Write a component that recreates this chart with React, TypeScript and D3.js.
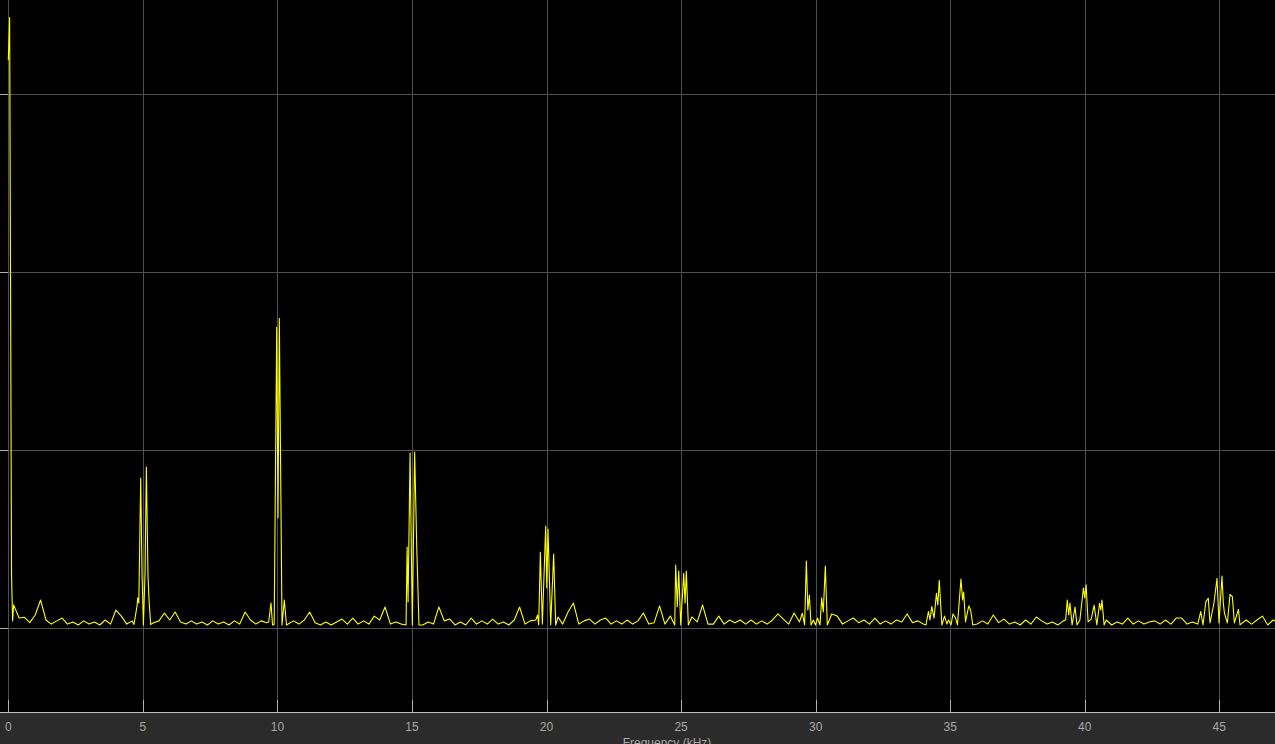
import React, { useRef, useEffect } from 'react';
import * as d3 from 'd3';

// spectrum amplitude, noise floor sampled every 0.2 kHz (null = covered by a peak group)
const noiseStep = 0.2;
const noiseFloor: (number | null)[] = [
  null, 0.013, 0.0056, 0.006, 0.003, 0.0073, 0.0157, 0.0045, 0.0022, 0.004,
  0.0056, 0.0022, 0.0034, 0.0017, 0.004, 0.0022, 0.0034, 0.0017, 0.0045, 0.0022,
  0.0101, 0.0067, 0.0022, 0.004, null, null, null, 0.003, 0.004, 0.0084,
  0.0045, 0.009, 0.0034, 0.0022, 0.004, 0.0022, 0.0034, 0.0017, 0.004, 0.0022,
  0.0034, 0.0017, 0.004, 0.0022, 0.009, 0.0045, 0.0022, 0.004, 0.003, null,
  null, null, 0.0022, 0.004, 0.0022, 0.0045, 0.009, 0.003, 0.0017, 0.0034,
  0.0017, 0.0034, 0.005, 0.0022, 0.0056, 0.0022, 0.004, 0.0022, 0.0067, 0.0045,
  0.0118, 0.0022, 0.0034, 0.0022, null, null, null, 0.0017, 0.0034, 0.0022,
  0.0118, 0.004, 0.005, 0.0017, 0.0034, 0.0017, 0.0056, 0.0022, 0.004, 0.0022,
  0.005, 0.0022, 0.0034, 0.0017, 0.0045, 0.0118, 0.0022, 0.004, 0.0045, null,
  null, null, null, 0.0022, 0.009, 0.014, 0.0022, 0.004, 0.005, 0.0022,
  0.0045, 0.0056, 0.0022, 0.004, 0.0022, 0.0045, 0.0022, 0.004, 0.0084, 0.0022,
  0.003, 0.0124, 0.0022, 0.0067, null, null, null, 0.0062, 0.0034, 0.0129,
  0.0022, 0.0022, 0.0067, 0.0022, 0.0045, 0.003, 0.0045, 0.0022, 0.0045, 0.0022,
  0.004, 0.0022, 0.0045, 0.0079, 0.005, 0.0022, 0.0084, 0.0034, null, null,
  null, null, null, 0.0079, 0.0067, 0.0022, 0.004, 0.0056, 0.003, 0.0045,
  0.0022, 0.0056, 0.0022, 0.004, 0.0022, 0.0045, 0.0034, 0.0079, 0.003, 0.004,
  0.0022, null, null, null, null, null, null, null, null, null,
  0.0022, 0.004, 0.0022, 0.0073, 0.003, 0.005, 0.0022, 0.0034, 0.0017, 0.0045,
  0.0022, 0.0062, 0.004, 0.0022, 0.0034, 0.0017, 0.004, null, null, null,
  null, null, null, null, 0.0045, 0.0017, 0.0034, 0.0022, 0.0056, 0.0022,
  0.004, 0.0022, 0.0034, 0.004, 0.0022, 0.0045, 0.0022, 0.0056, 0.0056, 0.0022,
  0.0034, 0.0022, null, null, null, null, null, null, null, 0.0022,
  0.0045, 0.0022, 0.0045, 0.0067, 0.0017, 0.0045, 0.003,
];

// peak groups: [kHz, amplitude]
const peakDC = [[0, 0.319], [0.05, 0.343], [0.12, 0.03], [0.16, 0.004]];
const peak5 = [[4.67, 0.002], [4.78, 0.012], [4.81, 0.0169], [4.85, 0.014], [4.92, 0.0843], [4.97, 0.03], [5.02, 0.0017], [5.08, 0.03], [5.13, 0.0904], [5.19, 0.03], [5.23, 0.0157], [5.29, 0.002]];
const peak10 = [[9.676, 0.0034], [9.762, 0.014], [9.818, 0.0017], [9.88, 0.002], [9.974, 0.169], [10.022, 0.062], [10.071, 0.174], [10.171, 0.0017], [10.256, 0.0157], [10.338, 0.0017]];
const peak15 = [[14.7, 0.002], [14.78, 0.0017], [14.82, 0.0455], [14.855, 0.0146], [14.93, 0.0983], [15.013, 0.0017], [15.1, 0.0989], [15.177, 0.0461], [15.26, 0.0017]];
const peak20 = [[19.666, 0.0073], [19.71, 0.0017], [19.77, 0.0425], [19.845, 0.0022], [19.97, 0.0573], [20.01, 0.0225], [20.055, 0.0556], [20.155, 0.0017], [20.266, 0.0416], [20.34, 0.0017], [20.43, 0.0062]];
const peak25 = [[24.764, 0.0017], [24.8, 0.0354], [24.86, 0.012], [24.913, 0.032], [24.987, 0.0017], [25.099, 0.0307], [25.147, 0.014], [25.195, 0.032], [25.27, 0.0017]];
const peak30 = [[29.506, 0.0083], [29.59, 0.0017], [29.655, 0.0376], [29.71, 0.0101], [29.767, 0.0185], [29.83, 0.0017], [29.915, 0.0045], [29.997, 0.0017], [30.07, 0.0056], [30.163, 0.0017], [30.226, 0.0169], [30.285, 0.009], [30.36, 0.0348], [30.434, 0.0017]];
const peak35 = [[34.1, 0.0017], [34.19, 0.0092], [34.25, 0.0045], [34.315, 0.012], [34.4, 0.0056], [34.49, 0.0195], [34.54, 0.0129], [34.595, 0.0268], [34.69, 0.0017], [34.79, 0.0067], [34.88, 0.0022], [34.94, 0.0045], [35.03, 0.0017], [35.105, 0.0079], [35.2, 0.0056], [35.27, 0.0017], [35.4, 0.0275], [35.46, 0.0157], [35.5, 0.0202], [35.57, 0.0034], [35.69, 0.0124], [35.76, 0.0101], [35.84, 0.0017]];
const peak40 = [[39.29, 0.0045], [39.35, 0.0157], [39.405, 0.0073], [39.45, 0.014], [39.53, 0.0017], [39.64, 0.0118], [39.71, 0.0017], [39.82, 0.0045], [39.95, 0.0225], [40.0, 0.0169], [40.05, 0.0243], [40.125, 0.0034], [40.24, 0.005], [40.35, 0.0128], [40.45, 0.0017], [40.55, 0.0139], [40.6, 0.0101], [40.64, 0.0157], [40.72, 0.0017]];
const peak45 = [[44.31, 0.0092], [44.395, 0.0017], [44.5, 0.0148], [44.59, 0.0167], [44.655, 0.0028], [44.8, 0.0139], [44.915, 0.0279], [44.99, 0.0028], [45.1, 0.0292], [45.15, 0.014], [45.19, 0.0084], [45.3, 0.0028], [45.4, 0.0189], [45.485, 0.0176], [45.56, 0.0028], [45.71, 0.0105], [45.77, 0.0017]];

const xTicks = [0, 5, 10, 15, 20, 25, 30, 35, 40, 45];
const yTicks = [0, 0.1, 0.2, 0.3];

const W = 1275, H = 744, plotBottom = 712;

const App = () => {
  const ref = useRef<SVGSVGElement>(null);

  useEffect(() => {
    const svg = d3.select(ref.current);
    svg.selectAll('*').remove();

    const x = d3.scaleLinear().domain([0, 45]).range([8.3, 1219.3]);
    const y = d3.scaleLinear().domain([0, 0.3]).range([628, 94]);

    const points: [number, number][] = [];
    noiseFloor.forEach((v, i) => { if (v !== null) points.push([i * noiseStep, v]); });
    [peakDC, peak5, peak10, peak15, peak20, peak25, peak30, peak35, peak40, peak45]
      .forEach(g => g.forEach(p => points.push([p[0], p[1]])));
    points.sort((a, b) => a[0] - b[0]);

    // backgrounds
    svg.append('rect').attr('width', W).attr('height', H).attr('fill', '#2b2b2b');
    svg.append('rect').attr('width', W).attr('height', plotBottom).attr('fill', '#000');

    svg.append('clipPath').attr('id', 'plotclip')
      .append('rect').attr('width', W).attr('height', plotBottom);

    // grid
    svg.append('g').selectAll('line').data(xTicks).enter().append('line')
      .attr('x1', d => Math.round(x(d)) + 0.5).attr('x2', d => Math.round(x(d)) + 0.5)
      .attr('y1', 0).attr('y2', plotBottom)
      .attr('stroke', '#505050').attr('stroke-width', 1);
    svg.append('g').selectAll('line').data(yTicks).enter().append('line')
      .attr('x1', 0).attr('x2', W)
      .attr('y1', d => Math.round(y(d)) + 0.5).attr('y2', d => Math.round(y(d)) + 0.5)
      .attr('stroke', '#505050').attr('stroke-width', 1);

    // ticks
    svg.append('g').selectAll('line').data(xTicks).enter().append('line')
      .attr('x1', d => Math.round(x(d)) + 0.5).attr('x2', d => Math.round(x(d)) + 0.5)
      .attr('y1', plotBottom - 12).attr('y2', plotBottom)
      .attr('stroke', '#b0b0b0');
    svg.append('g').selectAll('line').data(yTicks).enter().append('line')
      .attr('x1', 0).attr('x2', 8)
      .attr('y1', d => Math.round(y(d)) + 0.5).attr('y2', d => Math.round(y(d)) + 0.5)
      .attr('stroke', '#b0b0b0');

    // spectrum
    const line = d3.line<[number, number]>().x(d => x(d[0])).y(d => y(d[1]));
    svg.append('path')
      .datum(points)
      .attr('clip-path', 'url(#plotclip)')
      .attr('d', line)
      .attr('fill', 'none')
      .attr('stroke', '#ffff00')
      .attr('stroke-width', 1.1)
      .attr('stroke-linejoin', 'round');

    // x axis line
    svg.append('line')
      .attr('x1', 0).attr('x2', W).attr('y1', plotBottom + 0.5).attr('y2', plotBottom + 0.5)
      .attr('stroke', '#bdbdbd');

    svg.append('g').selectAll('text').data(xTicks).enter().append('text')
      .attr('x', d => x(d)).attr('y', 731)
      .attr('text-anchor', 'middle')
      .attr('font-family', '"Liberation Sans", Arial, sans-serif')
      .attr('font-size', 12)
      .attr('fill', '#a8a8a8')
      .text(d => d);

    svg.append('text')
      .attr('x', 667).attr('y', 747)
      .attr('text-anchor', 'middle')
      .attr('font-family', '"Liberation Sans", Arial, sans-serif')
      .attr('font-size', 12)
      .attr('fill', '#a8a8a8')
      .text('Frequency (kHz)');
  }, []);

  return (
    <svg ref={ref} width={W} height={H}
      style={{ position: 'absolute', left: 0, top: 0, display: 'block' }} />
  );
};

export default App;
